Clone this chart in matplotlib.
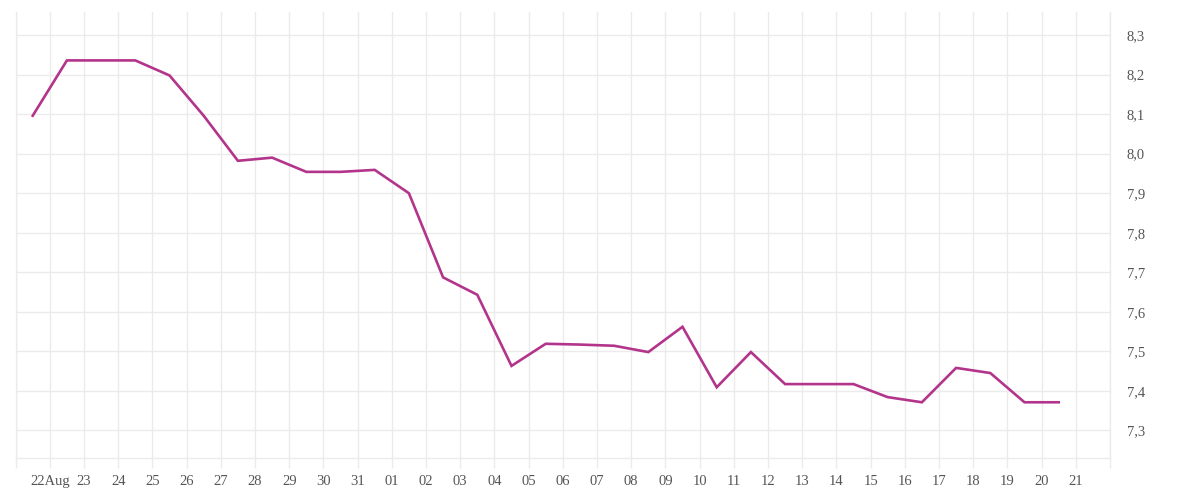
import matplotlib

matplotlib.use("Agg")
import matplotlib.pyplot as plt
import pandas as pd

# ---------------------------------------------------------------------------
# Data
# ---------------------------------------------------------------------------
START = pd.Timestamp("2023-08-21")
N_DAYS = 32

day_labels = ["22Aug", "23", "24", "25", "26", "27", "28", "29", "30", "31",
              "01", "02", "03", "04", "05", "06", "07", "08", "09", "10",
              "11", "12", "13", "14", "15", "16", "17", "18", "19", "20", "21"]

values = [8.096, 8.236, 8.236, 8.236, 8.198, 8.096, 7.982, 7.990, 7.954, 7.954,
          7.959, 7.900, 7.687, 7.643, 7.463, 7.519, 7.517, 7.514, 7.498, 7.562,
          7.409, 7.498, 7.417, 7.417, 7.417, 7.384, 7.371, 7.458, 7.445, 7.371,
          7.371]

y_ticks = [7.3, 7.4, 7.5, 7.6, 7.7, 7.8, 7.9, 8.0, 8.1, 8.2, 8.3]
y_tick_labels = ["7,3", "7,4", "7,5", "7,6", "7,7", "7,8", "7,9", "8,0", "8,1", "8,2", "8,3"]

LINE_COLOR = "#b3348b"
GRID_COLOR = "#ebebeb"
TEXT_COLOR = "#555555"

plt.rcParams["font.family"] = ["Liberation Serif", "DejaVu Serif"]

# points sit at midday, grid lines at midnight
x_points = [(START + pd.Timedelta(days=i, hours=12)) for i in range(len(values))]
x_grid = [START + pd.Timedelta(days=i) for i in range(N_DAYS + 1)]

fig = plt.figure(figsize=(12, 5), dpi=100)
ax = fig.add_axes([0.013, 0.084, 0.912, 0.892])

ax.plot(x_points, values, color=LINE_COLOR, linewidth=1.9, solid_joinstyle="miter")

ax.set_xlim(x_grid[0], x_grid[-1])
ax.set_ylim(7.23, 8.3585)

# x ticks on every day boundary, labels from 22 Aug to 21 Sep
ax.set_xticks(x_grid)
ax.set_xticklabels([""] + day_labels + [""])
ax.tick_params(axis="x", length=7, width=1, color=GRID_COLOR, pad=5,
               labelsize=10.5, labelcolor=TEXT_COLOR)

ax.set_yticks(y_ticks)
ax.set_yticklabels(y_tick_labels)
ax.yaxis.tick_right()
ax.tick_params(axis="y", length=0, pad=12, labelsize=10.5, labelcolor=TEXT_COLOR)
for lbl in ax.get_yticklabels():
    lbl.set_horizontalalignment("left")

ax.grid(True, color=GRID_COLOR, linewidth=1)
ax.set_axisbelow(True)

for side in ["left", "right", "bottom"]:
    ax.spines[side].set_color(GRID_COLOR)
    ax.spines[side].set_linewidth(1)
ax.spines["top"].set_visible(False)

fig.savefig("out.png", dpi=100)
